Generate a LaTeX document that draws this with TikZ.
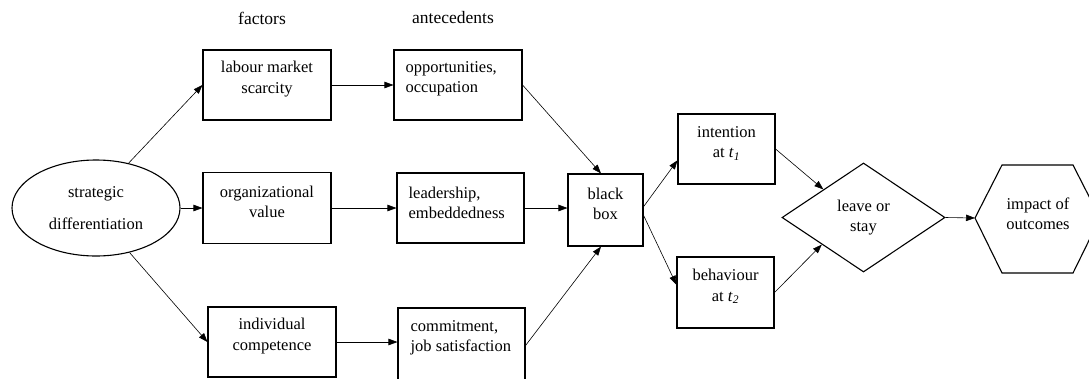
\documentclass[tikz,border=0pt]{standalone}
\usepackage{fontspec}
\setmainfont{Liberation Serif}
\usetikzlibrary{shapes.geometric,arrows.meta,calc}
\begin{document}
\begin{tikzpicture}[x=1pt,y=-1pt,
  txt/.style={font=\fontsize{16.5}{20.5}\selectfont, inner sep=0pt, align=center},
  head/.style={font=\fontsize{17.5}{21}\selectfont, inner sep=0pt},
  shapeline/.style={draw, line width=1.1pt},
  box/.style={shapeline, rectangle, minimum width=128pt, minimum height=70pt, inner sep=0pt},
  arr/.style={-{Triangle[length=9pt,width=6.5pt]}, line width=0.6pt}
]
\useasboundingbox (0,0) rectangle (1089,378);
\clip (0,0) rectangle (1089,378);

% headers
\node[head] (hf) at (262,18) {factors};
\node[head] (ha) at (453,18) {antecedents};

% ellipse
\node[shapeline, ellipse, minimum width=168pt, minimum height=96pt, txt] (sd) at (96,208)
  {strategic\\[11.5pt]differentiation};

% factor boxes
\node[box] (lab) at (267,85) {};
\node[txt] (labt) at ($(lab)+(0,-6)$) {labour market\\scarcity};
\node[box, minimum height=71pt] (org) at (267,208) {};
\node[txt] (orgt) at ($(org)+(0,-6)$) {organizational\\value};
\node[box] (ind) at (272,342) {};
\node[txt] (indt) at ($(ind)+(0,-6)$) {individual\\competence};

% antecedent boxes
\node[box] (opp) at (458,85) {};
\node[txt, align=left, anchor=west] (oppt) at ($(opp.west)+(12,-6)$) {opportunities,\\occupation};
\node[box, minimum width=127pt] (lead) at (460.5,208) {};
\node[txt, align=left, anchor=west] (leadt) at ($(lead.west)+(12,-5)$) {leadership,\\embeddedness};
\node[box, minimum width=127pt, minimum height=75pt] (com) at (461.5,345.5) {};
\node[txt, align=left, anchor=west] (comt) at ($(com.west)+(13,-7.5)$) {commitment,\\job satisfaction};

% black box
\node[box, minimum width=75pt, minimum height=72pt] (bb) at (605.5,210) {};
\node[txt] (bbt) at ($(bb)+(0,-6)$) {black\\box};

% intention / behaviour
\node[box, minimum width=97pt, minimum height=70pt] (int) at (726.5,149) {};
\node[txt] (intt) at ($(int)+(0,-5.5)$) {intention\\at \textit{t}\textsubscript{\textit{1}}};
\node[box, minimum width=97pt, minimum height=71pt] (beh) at (725.5,292.5) {};
\node[txt] (beht) at ($(beh)+(0,-6)$) {behaviour\\at \textit{t}\textsubscript{\textit{2}}};

% diamond
\node[shapeline, diamond, aspect=1.5, minimum width=163pt, minimum height=109pt, txt] (dia) at (863.5,217.5) {leave or\\stay};

% hexagon
\draw[line width=1.1pt] (975,218) -- (1002,165) -- (1073,165) -- (1100,218) -- (1073,273) -- (1002,273) -- cycle;
\coordinate (hexw) at (975,218);
\node[txt] (imp) at (1038,214) {impact of\\outcomes};

% connectors
\draw[arr] (sd.54) -- (lab.west);
\draw[arr] (sd.east) -- (org.west);
\draw[arr] (sd.-53) -- (ind.west);
\draw[arr] (lab.east) -- (opp.west);
\draw[arr] (org.east) -- (org.east -| lead.west);
\draw[arr] (ind.east) -- (ind.east -| com.west);
\draw[arr] (opp.east) -- (bb.97);
\draw[arr] (lead.east) -- (lead.east -| bb.west);
\draw[arr] (com.east) -- (bb.263);
\draw[arr] (bb.5) -- (int.193);
\draw[arr] (bb.-8) -- (beh.171);
\draw[arr] (int.east) -- (dia.145);
\draw[arr] (beh.east) -- (dia.213);
\draw[arr] (dia.east) -- (hexw);
\end{tikzpicture}
\end{document}
